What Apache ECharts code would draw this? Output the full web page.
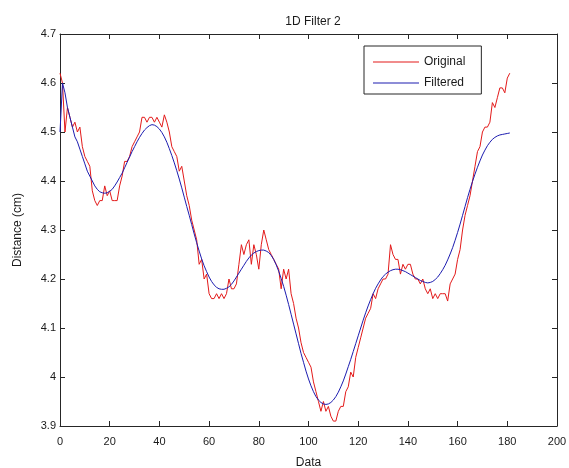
<!DOCTYPE html>
<html>
<head>
<meta charset="utf-8">
<script src="https://cdn.jsdelivr.net/npm/echarts@6/dist/echarts.min.js"></script>
<style>html,body{margin:0;padding:0;background:#fff}#c{width:569px;height:468px}</style>
</head>
<body>
<div id="c"></div>
<script>
var titleText = '1D Filter 2';
var xName = 'Data';
var yName = 'Distance (cm)';
var seriesNames = ['Original', 'Filtered'];

var original = [
4.62,4.60,4.50,4.55,4.53,4.51,4.52,4.50,4.51,4.47,
4.45,4.44,4.43,4.38,4.36,4.35,4.36,4.36,4.39,4.37,
4.38,4.36,4.36,4.36,4.39,4.41,4.44,4.44,4.45,4.47,
4.48,4.49,4.50,4.53,4.53,4.52,4.53,4.53,4.52,4.53,
4.52,4.51,4.535,4.52,4.50,4.47,4.46,4.45,4.42,4.43,
4.40,4.37,4.35,4.32,4.30,4.28,4.23,4.24,4.20,4.21,
4.17,4.16,4.16,4.17,4.16,4.17,4.16,4.17,4.20,4.18,
4.18,4.19,4.23,4.27,4.25,4.27,4.28,4.23,4.27,4.25,
4.22,4.27,4.30,4.28,4.26,4.25,4.24,4.23,4.22,4.18,
4.22,4.20,4.22,4.17,4.15,4.12,4.10,4.07,4.05,4.04,
4.03,4.02,3.99,3.97,3.95,3.93,3.95,3.93,3.94,3.92,
3.91,3.91,3.93,3.94,3.94,3.97,3.98,4.01,4.00,4.04,
4.06,4.08,4.10,4.12,4.13,4.14,4.17,4.16,4.18,4.19,
4.20,4.20,4.21,4.27,4.25,4.24,4.24,4.21,4.23,4.22,
4.23,4.23,4.21,4.20,4.20,4.19,4.20,4.18,4.17,4.18,
4.16,4.17,4.16,4.17,4.17,4.17,4.155,4.19,4.20,4.21,
4.24,4.26,4.30,4.33,4.35,4.37,4.40,4.43,4.46,4.47,
4.50,4.51,4.51,4.52,4.56,4.55,4.57,4.59,4.59,4.58,
4.61,4.62
];

var filtered = [
4.50,4.60,4.58,4.55,4.53,4.51,4.49,4.48,4.465,4.45,
4.435,4.42,4.41,4.40,4.39,4.383,4.378,4.376,4.375,4.376,
4.379,4.383,4.39,4.398,4.407,4.416,4.427,4.438,4.449,4.46,
4.47,4.48,4.489,4.497,4.504,4.509,4.513,4.515,4.514,4.511,
4.506,4.499,4.49,4.479,4.466,4.452,4.437,4.421,4.404,4.386,
4.367,4.348,4.33,4.311,4.292,4.274,4.257,4.241,4.227,4.215,
4.204,4.195,4.188,4.183,4.18,4.179,4.179,4.181,4.184,4.189,
4.196,4.204,4.212,4.22,4.228,4.236,4.243,4.249,4.253,4.256,
4.258,4.259,4.259,4.257,4.254,4.248,4.24,4.229,4.216,4.201,
4.185,4.167,4.148,4.128,4.108,4.088,4.068,4.048,4.03,4.012,
3.996,3.982,3.97,3.96,3.953,3.948,3.945,3.944,3.945,3.948,
3.953,3.96,3.969,3.98,3.992,4.006,4.021,4.036,4.052,4.068,
4.084,4.1,4.116,4.131,4.145,4.158,4.17,4.181,4.19,4.198,
4.205,4.21,4.214,4.217,4.219,4.22,4.22,4.219,4.217,4.215,
4.212,4.209,4.206,4.203,4.2,4.197,4.195,4.193,4.192,4.193,
4.195,4.199,4.204,4.211,4.219,4.228,4.239,4.251,4.264,4.279,
4.295,4.312,4.33,4.348,4.366,4.383,4.399,4.414,4.428,4.441,
4.453,4.463,4.472,4.479,4.485,4.489,4.492,4.494,4.495,4.496,
4.497,4.498
];

var xMin = 0, xMax = 200, xStep = 20;
var yMin = 3.9, yMax = 4.7, yStep = 0.1;

function pairs(arr){ return arr.map(function(v,i){ return [i, v]; }); }

var FONT = '"Liberation Sans", Arial, sans-serif';
var TXT = '#1a1a1a';
var RED = '#e31a1a', BLUE = '#1c1cb0';

var chart = echarts.init(document.getElementById('c'), null, {renderer:'canvas'});
function axLine(){ return {show:true, onZero:false, lineStyle:{color:'#262626', width:1}}; }
function tickIn(){ return {show:true, inside:true, length:5, lineStyle:{color:'#262626'}}; }

chart.setOption({
  animation:false,
  backgroundColor:'#fff',
  title:{text:titleText, left:308, textAlign:'center', top:11,
    textStyle:{fontFamily:FONT, fontSize:12, fontWeight:'normal', color:TXT}},
  legend:{
    data:[{name:seriesNames[0], icon:'rect'},{name:seriesNames[1], icon:'rect'}],
    orient:'vertical', left:364, top:46,
    backgroundColor:'#fff', borderColor:'#262626', borderWidth:1, borderRadius:0,
    padding:[9,16,4,9], itemWidth:46, itemHeight:1, itemGap:7,
    textStyle:{fontFamily:FONT, fontSize:12, color:TXT, lineHeight:14}
  },
  grid:{left:60, right:12, top:34, bottom:42, containLabel:false, outerBoundsMode:'none'},
  xAxis:[
    {type:'value', min:xMin, max:xMax, interval:xStep, position:'bottom',
     name:xName, nameLocation:'middle', nameGap:31,
     nameTextStyle:{fontFamily:FONT, fontSize:12, color:TXT},
     axisLine:axLine(), axisTick:tickIn(), splitLine:{show:false},
     axisLabel:{fontFamily:FONT, fontSize:11, color:TXT, margin:10}},
    {type:'value', min:xMin, max:xMax, interval:xStep, position:'top',
     axisLine:axLine(), axisTick:tickIn(), splitLine:{show:false}, axisLabel:{show:false}}
  ],
  yAxis:[
    {type:'value', min:yMin, max:yMax, interval:yStep, position:'left',
     name:yName, nameLocation:'middle', nameGap:36,
     nameTextStyle:{fontFamily:FONT, fontSize:12, color:TXT},
     axisLine:axLine(), axisTick:tickIn(), splitLine:{show:false},
     axisLabel:{fontFamily:FONT, fontSize:11, color:TXT, margin:4,
       formatter:function(v){ return String(Math.round(v*10)/10); }}},
    {type:'value', min:yMin, max:yMax, interval:yStep, position:'right',
     axisLine:axLine(), axisTick:tickIn(), splitLine:{show:false}, axisLabel:{show:false}}
  ],
  series:[
    {name:seriesNames[0], type:'line', data:pairs(original), showSymbol:false, symbol:'none',
     lineStyle:{color:RED, width:1}, itemStyle:{color:RED}, z:2},
    {name:seriesNames[1], type:'line', data:pairs(filtered), showSymbol:false, symbol:'none',
     lineStyle:{color:BLUE, width:1}, itemStyle:{color:BLUE}, z:3}
  ]
});
</script>
</body>
</html>
